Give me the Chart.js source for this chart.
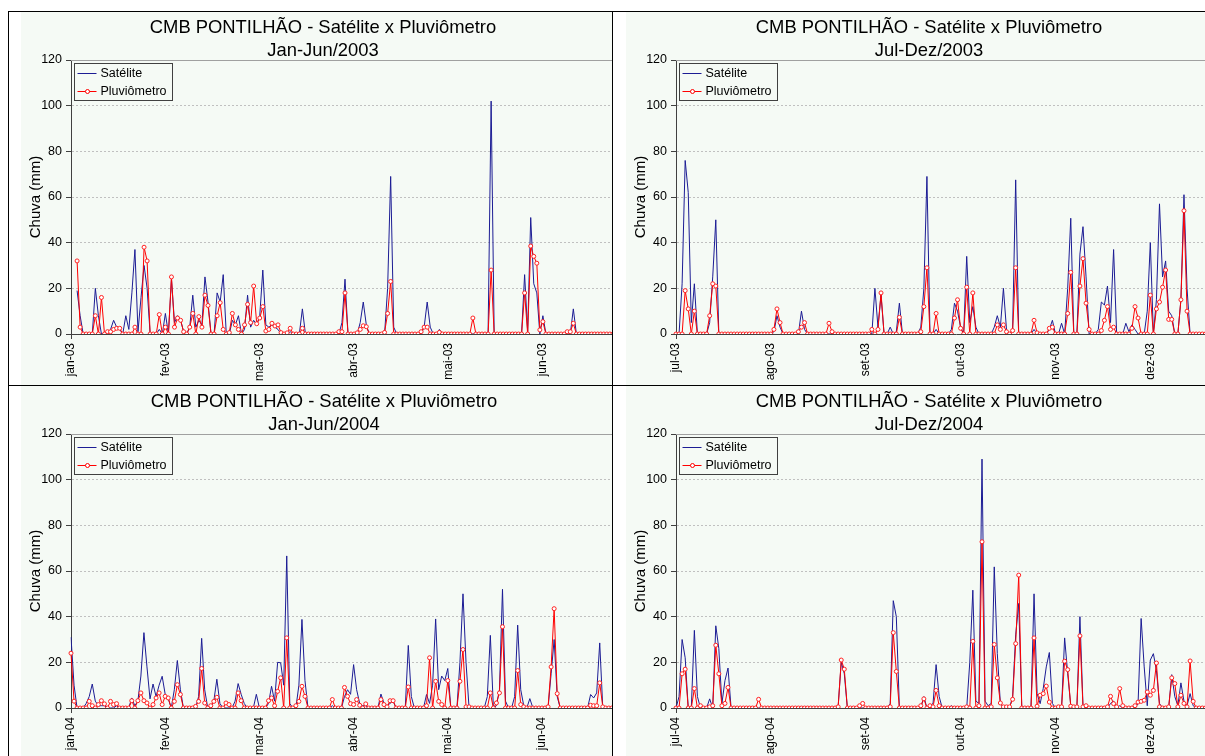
<!DOCTYPE html>
<html>
<head>
<meta charset="utf-8">
<script src="https://cdn.jsdelivr.net/npm/chart.js@4.4.0/dist/chart.umd.min.js"></script>
<style>
  html, body { margin: 0; padding: 0; background: #fff; }
  body { width: 1205px; height: 756px; position: relative; overflow: hidden; }
  .panel { position: absolute; overflow: hidden; background: #f5faf5; }
  .panel canvas { position: absolute; top: 0; }
  .rule { position: absolute; background: #000; }
</style>
</head>
<body>
<div class="rule" style="left:8px;top:11px;width:1px;height:745px"></div>
<div class="rule" style="left:8px;top:11px;width:1197px;height:1px"></div>
<div class="rule" style="left:8px;top:385px;width:1197px;height:1px"></div>
<div class="rule" style="left:612px;top:11px;width:1px;height:745px"></div>

<div class="panel" style="left:21px;top:12px;width:591px;height:373px">
  <canvas id="chart1" width="600" height="373" style="left:6px;width:600px;height:373px"></canvas>
</div>
<div class="panel" style="left:626px;top:12px;width:579px;height:373px">
  <canvas id="chart2" width="620" height="373" style="left:-4px;width:620px;height:373px"></canvas>
</div>
<div class="panel" style="left:21px;top:386px;width:591px;height:370px">
  <canvas id="chart3" width="600" height="373" style="left:6px;width:600px;height:373px"></canvas>
</div>
<div class="panel" style="left:626px;top:386px;width:579px;height:370px">
  <canvas id="chart4" width="620" height="373" style="left:-4px;width:620px;height:373px"></canvas>
</div>

<script>
const FONT = "'Liberation Sans', Arial, sans-serif";
const BG = '#f5faf5';
const TITLE = 'CMB PONTILHÃO - Satélite x Pluviômetro';

// tick labels, one every 31 days
const ticks1 = ['jan-03', 'fev-03', 'mar-03', 'abr-03', 'mai-03', 'jun-03'];
const ticks2 = ['jul-03', 'ago-03', 'set-03', 'out-03', 'nov-03', 'dez-03'];
const ticks3 = ['jan-04', 'fev-04', 'mar-04', 'abr-04', 'mai-04', 'jun-04'];
const ticks4 = ['jul-04', 'ago-04', 'set-04', 'out-04', 'nov-04', 'dez-04'];

// daily rain (mm), Jan-Jun 2003
const sat1 = [
  null, null, 19, 8, 0, 0, 0, 0, 20, 8,
  0, 0, 0, 2, 6, 3, 2, 0, 8, 2,
  18, 37, 1, 16, 30, 20, 0, 0, 0, 2,
  0, 9, 0, 24, 5, 8, 6, 1, 0, 3,
  17, 3, 6, 4, 25, 14, 0, 0, 18, 14,
  26, 0, 0, 6, 4, 8, 0, 2, 17, 3,
  6, 4, 8, 28, 4, 3, 4, 3, 2, 0,
  0, 0, 1, 0, 0, 0, 11, 0, 0, 0,
  0, 0, 0, 0, 0, 0, 0, 0, 0, 5,
  24, 0, 0, 0, 0, 5, 14, 4, 0, 0,
  0, 0, 0, 0, 20, 69, 3, 0, 0, 0,
  0, 0, 0, 0, 0, 0, 3, 14, 3, 0,
  0, 2, 0, 0, 0, 0, 0, 0, 0, 0,
  0, 0, 0, 0, 0, 0, 0, 0, 102, 0,
  0, 0, 0, 0, 0, 0, 0, 0, 0, 26,
  1, 51, 22, 18, 0, 8, 0, 0, 0, 0,
  0, 0, 0, 0, 0, 11, 0, 0, 0, 0,
  0, 0, 0, 0, 0, 0, 0, 0, 0, 0,
  0
];
const pluv1 = [
  null, null, 32, 3, 0, 0, 0, 0, 8, 0,
  16, 0, 1, 1, 2, 2.5, 2.5, 0, 0, 0,
  0, 3, 0, 0, 38, 32, 0, 0, 0, 8.5,
  0, 3, 0, 25, 3, 7, 6, 1, 0, 3,
  9, 0, 7.6, 3, 17, 12.5, 0, 0, 8, 13.7,
  2, 0, 0.6, 9, 4, 2, 0, 4, 13, 5,
  21, 4.5, 7, 12, 1.3, 2, 4.7, 3.5, 4, 0.6,
  0, 0.5, 2.5, 0, 0, 0, 2.5, 0, 0, 0,
  0, 0, 0, 0, 0, 0, 0, 0, 1, 1,
  18, 0, 0, 0, 0.5, 2, 3.6, 3.2, 0, 0,
  0, 0, 0, 0.7, 9, 23, 0, 0, 0, 0,
  0, 0, 0, 0, 0, 1, 3, 3, 0, 0,
  0, 0.7, 0, 0, 0, 0, 0, 0, 0, 0,
  0, 0, 7, 0, 0, 0, 0, 0, 28, 0,
  0, 0, 0, 0, 0, 0, 0, 0, 0, 18,
  0, 38.5, 34, 31, 1.8, 5.4, 0, 0, 0, 0,
  0, 0, 0, 1, 1, 4.7, 0, 0, 0, 0,
  0, 0, 0, 0, 0, 0, 0, 0, 0, 0,
  0
];

// Jul-Dez 2003
const sat2 = [
  0, 0, 22, 76, 62, 5, 22, 0, 0, 0,
  0, 5, 25, 50, 0, 0, 0, 0, 0, 0,
  0, 0, 0, 0, 0, 0, 0, 0, 0, 0,
  0, 0, 1, 8, 3, 0, 0, 0, 0, 0,
  0, 10, 2, 0, 0, 0, 0, 0, 0, 0,
  0, 0, 0, 0, 0, 0, 0, 0, 0, 0,
  0, 0, 0, 0, 0, 20, 3, 17, 0, 0,
  3, 0, 1, 13.5, 0, 0, 0, 0, 0, 0,
  3, 20, 69, 0, 0, 2, 0, 0, 0, 0,
  2, 13.5, 10, 3, 0, 34, 5, 12, 3, 0,
  0, 0, 0, 0, 3, 8, 3, 20, 2, 0,
  2, 67.5, 0, 0, 0, 0, 0, 2, 0, 0,
  0, 0, 2, 6, 0, 0, 4.7, 0, 20, 50.7,
  0, 0, 35, 47, 25, 0, 0, 0, 2, 14,
  12.7, 21, 5, 37, 0, 0, 0, 4.7, 1, 4,
  2, 0, 0, 0, 10, 40, 0, 15, 57, 25,
  32, 10, 8, 0, 0, 15, 61, 20, 0, 0,
  0, 0, 0, 0, 0, 0, 0, 0, 0, 0,
  0, 0, 0, 0
];
const pluv2 = [
  0, 0, 0, 19, 11, 0, 10, 0, 0, 0,
  0, 8, 22, 21, 0, 0, 0, 0, 0, 0,
  0, 0, 0, 0, 0, 0, 0, 0, 0, 0,
  0, 0, 2, 11, 5, 0, 0, 0, 0, 0,
  1, 3, 5, 0, 0, 0, 0, 0, 0, 0,
  4.7, 1, 0, 0, 0, 0, 0, 0, 0, 0,
  0, 0, 0, 0, 2, 0, 2, 18, 0, 0,
  0, 0, 0, 7.3, 0, 0, 0, 0, 0, 0,
  1, 12, 29, 0, 0, 9, 0, 0, 0, 0,
  0, 7, 15, 2.5, 0, 20.5, 0, 18, 0, 0,
  0, 0, 0, 0, 0, 4, 2, 4, 1, 0,
  1.5, 29, 0, 0, 0, 0, 0, 6, 0.5, 0,
  0, 0, 2.5, 3, 0, 0, 0, 0, 9, 27,
  0, 0, 21, 33, 13.5, 2, 0, 0, 0, 1.5,
  6, 12, 2, 3, 0, 0, 0, 0, 0, 2.5,
  12, 7, 0, 0, 0, 17, 0, 11, 14, 20.5,
  28, 6.4, 6.4, 0, 0, 15, 54, 10, 0, 0,
  0, 0, 0, 0, 0, 0, 0, 0, 0, 0,
  0, 0, 0, 0
];

// Jan-Jun 2004
const sat3 = [
  31, 10, 0, 0, 0, 2, 5, 10.5, 3, 1,
  1, 1, 0, 0, 0, 1, 0, 0, 0, 0,
  4.4, 1, 3, 14, 33, 18, 4, 10.5, 5, 10,
  13.9, 6, 4, 0, 8, 20.8, 8, 0, 0, 0,
  0, 0, 5, 30.5, 8, 0, 0, 3, 12.6, 2,
  0, 0, 0, 0, 3, 10.7, 6, 2, 0, 0,
  0, 6, 0, 0, 0, 2, 9.5, 3, 20, 19.8,
  10, 66.6, 2, 0, 0, 10, 38.8, 12, 0, 0,
  0, 0, 0, 0, 0, 0, 1, 0, 0, 0,
  5, 8, 6, 19, 8, 2, 1, 1, 0, 0,
  0, 0, 6.1, 2, 1, 2, 3, 0, 0, 0,
  0, 27.4, 5, 0, 0, 0, 0, 5.9, 2, 10,
  39, 8, 14, 12, 17.3, 0, 0, 0, 20, 50,
  20, 0, 0, 0, 0, 0, 0, 5, 31.8, 0,
  1, 8, 52, 3, 0, 0, 5, 36.3, 8, 1,
  0, 4.1, 0, 0, 0, 0, 0, 0, 15, 30,
  5, 0, 0, 0, 0, 0, 0, 0, 0, 0,
  0, 5.9, 4.4, 6.6, 28.5, 0, 0, 0, 0, 0,
  0, 0
];
const pluv3 = [
  24, 3, 0, 0, 0, 0, 2.9, 1, 0, 1.5,
  3.2, 1.8, 0, 2.9, 1.5, 1.9, 0, 0, 0, 0,
  3.2, 0, 3.2, 6.6, 3.2, 2.2, 0, 1.5, 4.4, 6.6,
  1.5, 5.1, 4.4, 0, 2.9, 10.2, 5.9, 0, 0, 0,
  0, 0.7, 2.9, 17.3, 2.2, 0, 1, 2.9, 4.7, 0,
  0, 2.2, 1.5, 0, 0, 6.6, 3.2, 0, 0, 0,
  0, 0, 0, 0, 0, 3.2, 4.4, 1, 7.3, 13.2,
  0, 30.7, 0, 0, 1, 2.9, 9.5, 5.1, 0, 0,
  0, 0, 0, 0, 0, 0, 3.7, 0, 0, 0,
  9, 5.1, 1.9, 1.5, 3.7, 1.2, 0, 1.8, 0, 0,
  0, 0, 3.7, 1.5, 0.5, 3.2, 3.2, 0, 0, 0,
  0, 9.2, 0, 0, 0, 0, 0, 1, 22, 0,
  11.7, 2.9, 1.5, 0, 12, 0, 0, 0, 11.7, 25.6,
  0.5, 0.5, 0, 0, 0, 0, 0, 0, 6.6, 0,
  2.2, 6.6, 35.6, 0, 0, 0, 0, 16.4, 1.5, 0.5,
  0, 0, 0, 0, 0, 0, 0, 0.5, 18, 43.5,
  6.3, 0, 0, 0, 0, 0, 0, 0, 0, 0,
  0, 1.2, 1, 1, 11, 0.5, 0, 0, 0, 0,
  0, 0
];

// Jul-Dez 2004
const sat4 = [
  0, 5, 30, 22, 0, 0, 34, 5, 0, 0,
  0, 4, 0, 36, 26, 2, 12, 17.5, 0, 0,
  0, 0, 0, 0, 0, 0, 0, 0, 0, 0,
  0, 0, 0, 0, 0, 0, 0, 0, 0, 0,
  0, 0, 0, 0, 0, 0, 0, 0, 0, 0,
  0, 0, 0, 1, 20, 15, 0, 0, 0, 0,
  0, 0, 0, 0, 0, 0, 0, 0, 0, 0,
  2, 47, 40, 0, 0, 0, 0, 0, 0, 0,
  0, 5, 0, 1, 2, 19, 5, 0, 0, 0,
  1, 0, 0, 0, 0, 0, 20, 51.6, 3, 2,
  109, 3, 1, 2, 61.8, 23.8, 2, 0, 0, 0,
  5, 32, 45.8, 0, 0, 0, 0, 50, 6.3, 1.9,
  8.5, 18, 24.3, 2, 0, 0, 0, 30.7, 15, 1,
  0, 0, 40, 1, 0, 0, 0, 0, 0, 0,
  0, 0, 2, 3, 0, 1, 0, 0, 0, 0,
  0, 2, 39.2, 18, 1, 21, 23.8, 16.5, 2, 0,
  0, 0, 14.6, 5, 1, 11, 3, 1, 6.3, 1,
  0, 0, 0, 0, 0, 0, 0, 0, 0, 0,
  0, 0, 0, 0
];
const pluv4 = [
  0, 0, 15, 17, 0, 0, 8.5, 0, 1, 0,
  0, 0.5, 1, 27.5, 15, 1, 2, 9, 0, 0,
  0, 0, 0, 0, 0, 0, 0, 3.8, 0, 0,
  0, 0, 0, 0, 0, 0, 0, 0, 0, 0,
  0, 0, 0, 0, 0, 0, 0, 0, 0, 0,
  0, 0, 0, 0.5, 21, 17, 0, 0, 0, 0,
  1, 2, 0, 0, 0, 0, 0, 0, 0, 0,
  0.5, 33, 16, 0, 0, 0, 0, 0, 0, 0,
  1, 4, 0, 1, 0.5, 7.7, 1, 0, 0, 0,
  0, 0, 0, 0, 0, 0.5, 0, 29.2, 0, 1,
  72.8, 0, 0, 0.5, 27.8, 13.2, 2.2, 0.5, 0.5, 0.5,
  3.8, 28.2, 58.2, 0, 0, 0, 0, 30.7, 0.8, 5.6,
  6.3, 9.6, 2.6, 0, 0, 0.5, 0.5, 20.5, 16.8, 0.8,
  0.5, 0.5, 31.6, 0.5, 1, 0, 0, 0, 0, 0,
  0, 0.5, 5.1, 1.9, 0.5, 8.5, 1, 0, 0, 0,
  1, 2.6, 2.9, 3.4, 7, 5.6, 7.7, 19.7, 0.5, 0,
  0, 0.5, 13.2, 10.7, 0.5, 5.6, 2, 0.5, 20.6, 2.9,
  0, 0, 0, 0, 0, 0, 0, 0, 0, 0,
  0, 0, 0, 0
];

function dayLabels(year, month, count) {
  const out = [];
  const d = new Date(Date.UTC(year, month, 1));
  for (let i = 0; i < count; i++) {
    out.push(d.toISOString().slice(0, 10));
    d.setUTCDate(d.getUTCDate() + 1);
  }
  return out;
}

// solid grey line on top of the plot area
const plotFrame = {
  id: 'plotFrame',
  beforeDatasetsDraw(chart) {
    const { ctx, chartArea } = chart;
    const y = Math.round(chartArea.top) + 0.5;
    ctx.save();
    ctx.strokeStyle = '#a0a0a0';
    ctx.lineWidth = 1;
    ctx.beginPath();
    ctx.moveTo(chartArea.left, y);
    ctx.lineTo(chartArea.right, y);
    ctx.stroke();
    ctx.restore();
  },
};

// Excel style legend box inside the plot
const legendBox = {
  id: 'legendBox',
  afterDatasetsDraw(chart) {
    const { ctx, chartArea } = chart;
    const x = Math.round(chartArea.left) + 3.5;
    const y = Math.round(chartArea.top) + 3.5;
    ctx.save();
    ctx.fillStyle = BG;
    ctx.fillRect(x, y, 98, 37);
    ctx.strokeStyle = '#404040';
    ctx.lineWidth = 1;
    ctx.strokeRect(x, y, 98, 37);
    ctx.font = '12.5px ' + FONT;
    ctx.textBaseline = 'middle';
    chart.data.datasets.forEach((ds, i) => {
      const ly = Math.round(y + 9 + i * 18) + 0.5;
      ctx.strokeStyle = ds.borderColor;
      ctx.beginPath();
      ctx.moveTo(x + 3, ly);
      ctx.lineTo(x + 22, ly);
      ctx.stroke();
      if (ds.pointRadius) {
        ctx.fillStyle = '#fff';
        ctx.beginPath();
        ctx.arc(x + 13, ly, 2, 0, Math.PI * 2);
        ctx.fill();
        ctx.stroke();
      }
      ctx.fillStyle = '#000';
      ctx.fillText(ds.label, x + 26, ly + 0.5);
    });
    ctx.restore();
  },
};

function makeChart(id, { days, ticks, sat, pluv, period, axisWidth, rightPad, yTitlePad }) {
  const ctx = document.getElementById(id).getContext('2d');
  new Chart(ctx, {
    type: 'line',
    data: {
      labels: days,
      datasets: [
        {
          label: 'Satélite',
          data: sat,
          borderColor: '#1c1c94',
          borderWidth: 1,
          pointRadius: 0,
          tension: 0,
          order: 2,
        },
        {
          label: 'Pluviômetro',
          data: pluv,
          borderColor: '#ff0000',
          borderWidth: 1,
          pointRadius: 2,
          pointStyle: 'circle',
          pointBackgroundColor: '#ffffff',
          pointBorderColor: '#ff2020',
          pointBorderWidth: 1,
          tension: 0,
          order: 1,
        },
      ],
    },
    options: {
      responsive: false,
      animation: false,
      events: [],
      layout: { padding: { left: 0, right: rightPad, top: 0, bottom: 0 } },
      plugins: {
        legend: { display: false },
        tooltip: { enabled: false },
        title: {
          display: true,
          text: [TITLE, period],
          color: '#000',
          font: { family: FONT, size: 18.4, weight: 'normal', lineHeight: 1.25 },
          padding: { top: 4, bottom: -2 },
        },
      },
      scales: {
        x: {
          type: 'category',
          offset: false,
          afterFit: (s) => { s.height = 51; },
          grid: {
            drawOnChartArea: false,
            tickLength: 5,
            color: '#404040',
            lineWidth: (c) => (c.index % 31 === 0 ? 1 : 0),
          },
          border: { color: '#404040' },
          ticks: {
            autoSkip: false,
            maxRotation: 90,
            minRotation: 90,
            padding: 4,
            color: '#000',
            font: { family: FONT, size: 12 },
            callback: (v, i) => (i % 31 === 0 ? ticks[i / 31] : null),
          },
        },
        y: {
          min: 0,
          max: 120,
          afterFit: (s) => { s.width = axisWidth; },
          ticks: {
            stepSize: 20,
            padding: 4,
            color: '#000',
            font: { family: FONT, size: 12.5 },
          },
          grid: {
            color: (c) => (c.tick && c.tick.value === 0 ? 'rgba(0,0,0,0)' : '#c0c0c0'),
            tickColor: '#404040',
            tickLength: 5,
          },
          border: { color: '#404040', dash: [2, 2] },
          title: {
            display: true,
            text: 'Chuva (mm)',
            color: '#000',
            font: { family: FONT, size: 15 },
            padding: { top: yTitlePad, bottom: 0 },
          },
        },
      },
    },
    plugins: [plotFrame, legendBox],
  });
}

makeChart('chart1', {
  days: dayLabels(2003, 0, sat1.length), ticks: ticks1, sat: sat1, pluv: pluv1,
  period: 'Jan-Jun/2003', axisWidth: 44, rightPad: 8, yTitlePad: 0,
});
makeChart('chart2', {
  days: dayLabels(2003, 6, sat2.length), ticks: ticks2, sat: sat2, pluv: pluv2,
  period: 'Jul-Dez/2003', axisWidth: 54, rightPad: 6, yTitlePad: 9.5,
});
makeChart('chart3', {
  days: dayLabels(2004, 0, sat3.length), ticks: ticks3, sat: sat3, pluv: pluv3,
  period: 'Jan-Jun/2004', axisWidth: 44, rightPad: 6, yTitlePad: 0,
});
makeChart('chart4', {
  days: dayLabels(2004, 6, sat4.length), ticks: ticks4, sat: sat4, pluv: pluv4,
  period: 'Jul-Dez/2004', axisWidth: 54, rightPad: 6, yTitlePad: 9.5,
});
</script>
</body>
</html>
